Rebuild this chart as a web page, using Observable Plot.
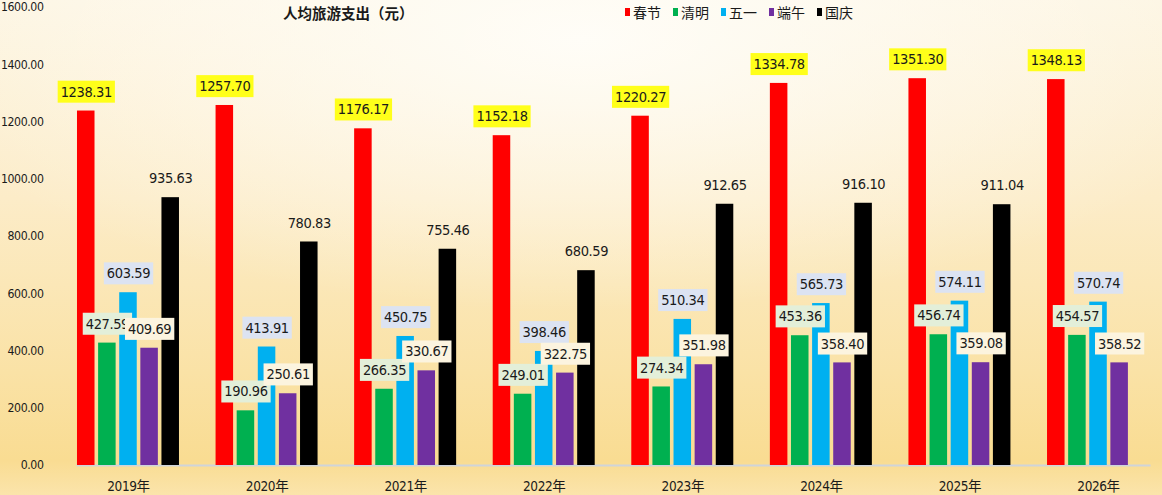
<!DOCTYPE html>
<html><head><meta charset="utf-8">
<script src="https://cdn.jsdelivr.net/npm/d3@7"></script>
<script src="https://cdn.jsdelivr.net/npm/@observablehq/plot@0.6"></script>
<style>
body{margin:0;}
#wrap{position:relative;width:1162px;height:495px;overflow:hidden;
 background:
  radial-gradient(ellipse 60% 55% at 50% 8%, rgba(255,254,250,0.9), rgba(255,254,250,0) 100%),
  linear-gradient(180deg,#fdf5e2 0%,#fcecc8 40%,#fae2a6 75%,#f9dc92 93%,#fbe4ab 100%);}
#chart{position:absolute;left:0;top:0;}
#title{position:absolute;left:283px;top:2px;font:bold 14.5px "Noto Sans CJK SC",sans-serif;color:#1a1a1a;}
#legend{position:absolute;left:625px;top:2px;display:flex;gap:12px;font:14px "Noto Sans CJK SC",sans-serif;color:#1a1a1a;}
.item{display:flex;align-items:center;}
.sw{width:5px;height:8px;margin-right:3px;}
</style></head><body>
<div id="wrap"><div id="chart"></div><div id="title">人均旅游支出（元）</div><div id="legend"></div></div>
<script>
const years = ["2019年","2020年","2021年","2022年","2023年","2024年","2025年","2026年"];
const holidays = ["春节","清明","五一","端午","国庆"];
const chunjie  = [1238.31,1257.70,1176.17,1152.18,1220.27,1334.78,1351.30,1348.13];
const qingming = [427.59,190.96,266.35,249.01,274.34,453.36,456.74,454.57];
const wuyi     = [603.59,413.91,450.75,398.46,510.34,565.73,574.11,570.74];
const duanwu   = [409.69,250.61,330.67,322.75,351.98,358.40,359.08,358.52];
const guoqing  = [935.63,780.83,755.46,680.59,912.65,916.10,911.04,null];
const yTicks   = [0,200,400,600,800,1000,1200,1400,1600];
const colors   = ["#ff0000","#00b050","#00b0f0","#7030a0","#000000"];
const labelBg  = ["#ffff1a","#e3efd9","#dce3f2","#fcf4df",null];

const series = [chunjie,qingming,wuyi,duanwu,guoqing];
const rows = [];
years.forEach((yr,i)=>holidays.forEach((h,j)=>{
  const v = series[j][i];
  if (v != null) rows.push({year:yr, holiday:h, value:v});
}));

const font = '"DejaVu Sans Condensed","DejaVu Sans","Noto Sans CJK SC",sans-serif';

const chart = Plot.plot({
  width:1162, height:495,
  marginLeft:58, marginRight:-6, marginTop:7, marginBottom:30,
  style:{background:"transparent", fontFamily:font, fontSize:"13.5px", color:"#1a1a1a", letterSpacing:"-0.4px"},
  fx:{domain:years, paddingInner:0.264, paddingOuter:0.137, round:false, label:null, tickSize:0, tickPadding:16},
  x:{domain:holidays, paddingInner:0.17, paddingOuter:0, round:false, axis:null},
  y:{domain:[0,1600], axis:null},
  color:{domain:holidays, range:colors},
  marks:[
    Plot.frame({anchor:"bottom", stroke:"#cfd4da", strokeWidth:2, facet:"super"}),
    Plot.axisY({ticks:yTicks, tickFormat:d=>d.toFixed(2), label:null, tickSize:0, tickPadding:34, fontSize:12.2}),
    Plot.barY(rows, {fx:"year", x:"holiday", y:"value", fill:"holiday"}),
    ...holidays.map((h,j)=>Plot.text(rows.filter(r=>r.holiday===h), {
      fx:"year", x:"holiday", y:"value", text:d=>d.value.toFixed(2),
      dy:-19, fontSize:14.5, fill:"#1a1a1a", ariaDescription:"lab"+j
    }))
  ]
});
document.getElementById("chart").append(chart);

// label background boxes sized from each rendered text
holidays.forEach((h,j)=>{
  if (!labelBg[j]) return;
  chart.querySelectorAll(`g[aria-description="lab${j}"] text`).forEach(t=>{
    const b = t.getBBox();
    const r = document.createElementNS("http://www.w3.org/2000/svg","rect");
    r.setAttribute("x", b.x-3);
    r.setAttribute("y", b.y-3);
    r.setAttribute("width", b.width+6);
    r.setAttribute("height", b.height+6);
    const tr = t.getAttribute("transform");
    if (tr) r.setAttribute("transform", tr);
    r.setAttribute("fill", labelBg[j]);
    t.parentNode.insertBefore(r, t);
  });
});

const legend = document.getElementById("legend");
holidays.forEach((h,j)=>{
  const it = document.createElement("div"); it.className="item";
  const sw = document.createElement("span"); sw.className="sw"; sw.style.background=colors[j];
  const tx = document.createElement("span"); tx.textContent=h;
  it.append(sw,tx); legend.append(it);
});
</script>
</body></html>
